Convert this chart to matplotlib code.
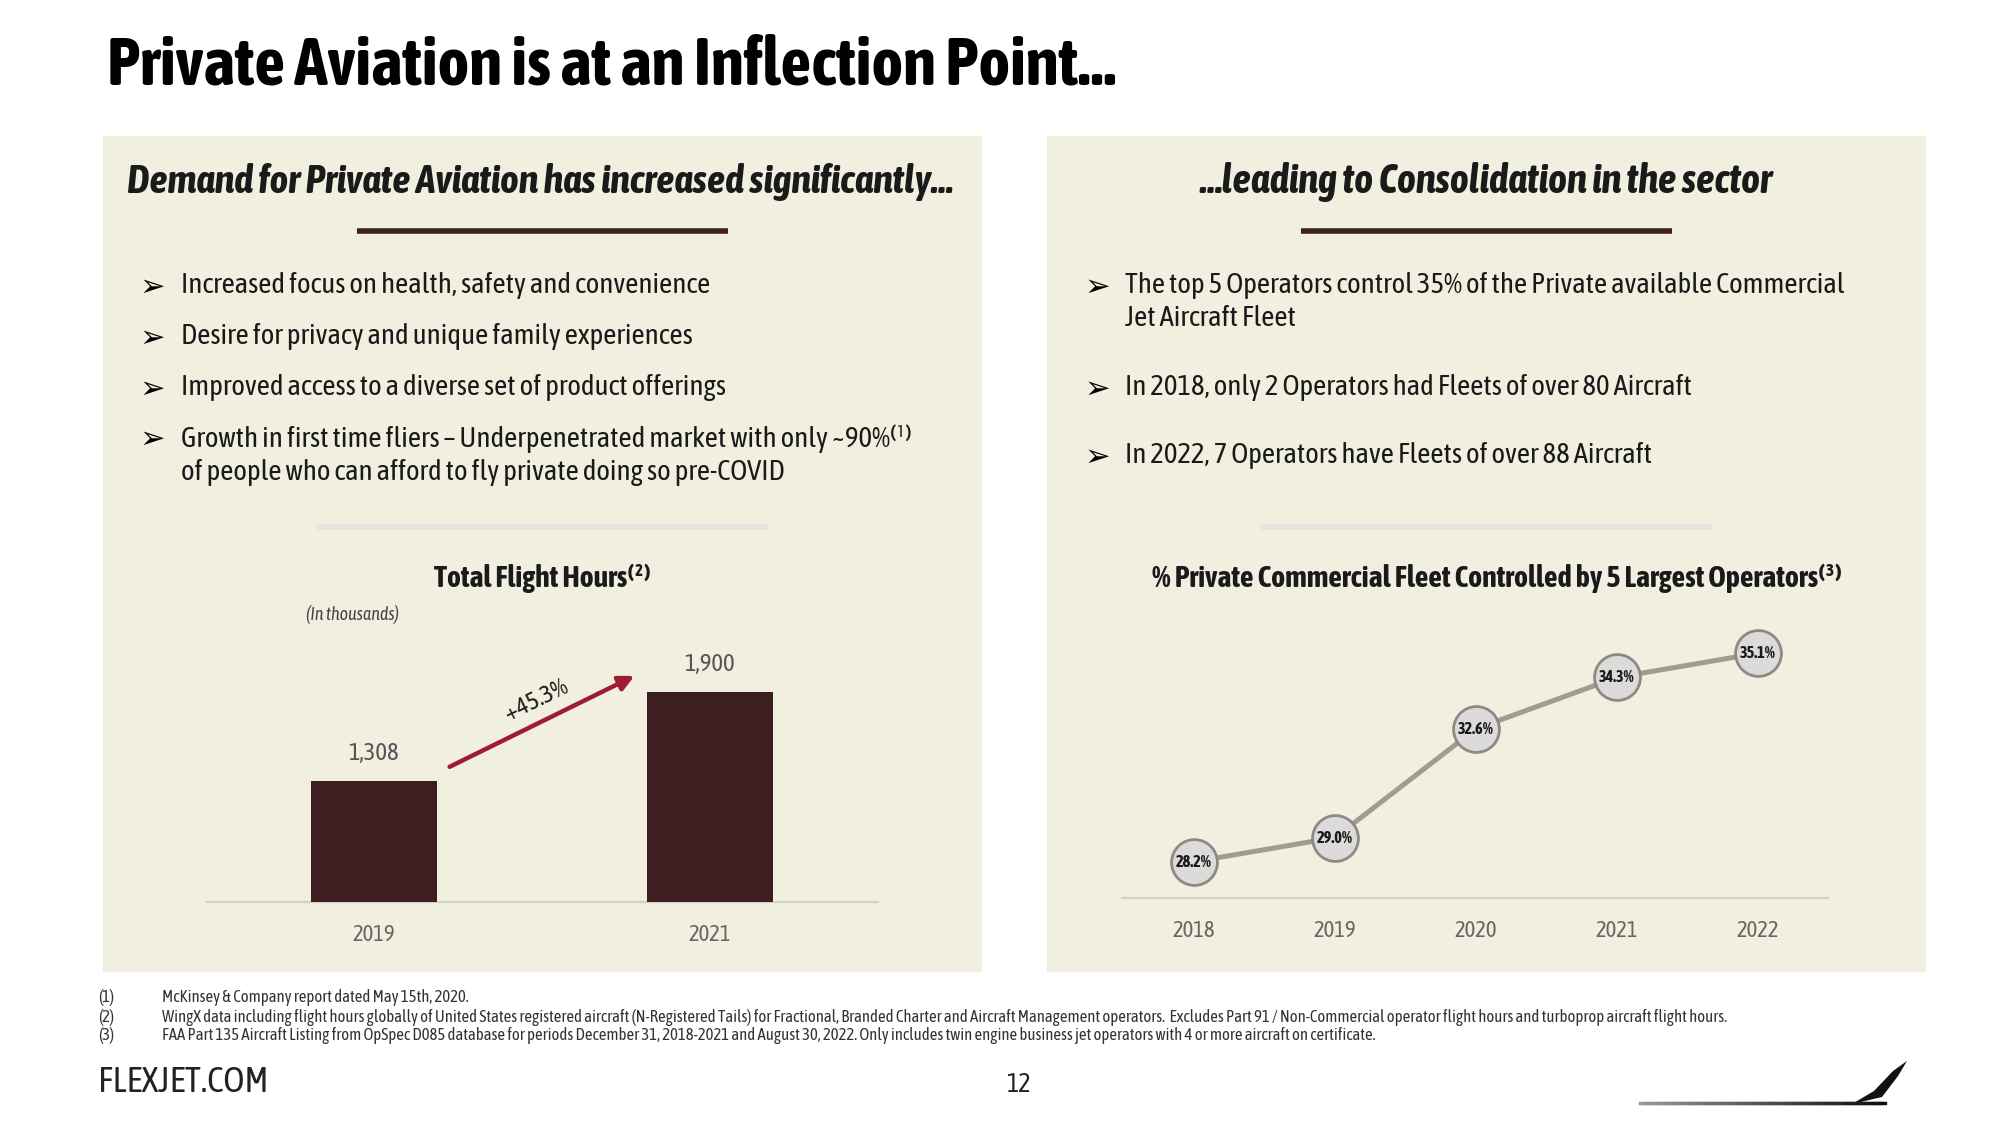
import matplotlib
matplotlib.use("Agg")
import matplotlib.pyplot as plt
import matplotlib.patches as mpatches
from matplotlib import font_manager
from matplotlib.collections import LineCollection
from collections import defaultdict
import numpy as np

# ── Colours ────────────────────────────────────────────────────────────────
PANEL = "#F1EFDF"
BROWN = "#3E1F21"
ARROW_RED = "#9E1B32"
LINE_GREY = "#A39A92"
DOT_FACE = "#DCDBD9"
DOT_EDGE = "#8E8984"
BASE = "#D3D0C6"
FAINT = "#E6E4DE"
TEXT = "#1A1A1A"
MUTED = "#666666"

# prefer a narrow face with a bold cut, the slide uses a condensed font
_variants = defaultdict(set)
for f in font_manager.fontManager.ttflist:
    if "Narrow" in f.name or "Condensed" in f.name:
        w = f.weight if isinstance(f.weight, int) else font_manager.weight_dict.get(f.weight, 400)
        _variants[f.name].add((w >= 600, f.style))
_ranked = sorted(_variants, key=lambda n: (any(b for b, _ in _variants[n]), len(_variants[n])),
                 reverse=True)
FONT = _ranked[:1] + ["Roboto", "DejaVu Sans"]
plt.rcParams["font.family"] = FONT

# ── Data ───────────────────────────────────────────────────────────────────
hours_years = ["2019", "2021"]
hours_values = [1308, 1900]

fleet_years = ["2018", "2019", "2020", "2021", "2022"]
fleet_share = [28.2, 29.0, 32.6, 34.3, 35.1]

left_bullets = [
    "Increased focus on health, safety and convenience",
    "Desire for privacy and unique family experiences",
    "Improved access to a diverse set of product offerings",
    "Growth in first time fliers \u2013 Underpenetrated market with only ~90%\u207d\u00b9\u207e\nof people who can afford to fly private doing so pre-COVID",
]
right_bullets = [
    "The top 5 Operators control 35% of the Private available Commercial\nJet Aircraft Fleet",
    "In 2018, only 2 Operators had Fleets of over 80 Aircraft",
    "In 2022, 7 Operators have Fleets of over 88 Aircraft",
]
footnotes = [
    "McKinsey & Company report dated May 15th, 2020.",
    "WingX data including flight hours globally of United States registered aircraft (N-Registered Tails) for Fractional, Branded Charter and Aircraft Management operators.  Excludes Part 91 / Non-Commercial operator flight hours and turboprop aircraft flight hours.",
    "FAA Part 135 Aircraft Listing from OpSpec D085 database for periods December 31, 2018-2021 and August 30, 2022. Only includes twin engine business jet operators with 4 or more aircraft on certificate.",
]

W, H = 2000, 1125
fig = plt.figure(figsize=(W / 100, H / 100), dpi=100, facecolor="white")
renderer = fig.canvas.get_renderer()

# page-level canvas in pixel units (y downwards)
ax0 = fig.add_axes([0, 0, 1, 1], zorder=0)
ax0.set_xlim(0, W)
ax0.set_ylim(H, 0)
ax0.axis("off")


def px_axes(x0, y0, x1, y1):
    a = fig.add_axes([x0 / W, 1 - y1 / H, (x1 - x0) / W, (y1 - y0) / H], zorder=2)
    a.set_facecolor("none")
    return a


def fit(t, target_w):
    # scale a text so its width matches the reference width (pixels)
    for _ in range(3):
        cur = t.get_window_extent(renderer).width
        t.set_fontsize(t.get_fontsize() * target_w / cur)
    return t


def size_for(s, target_w, **kw):
    probe = ax0.text(0, 0, s, fontsize=12, **kw)
    fit(probe, target_w)
    size = probe.get_fontsize()
    probe.remove()
    return size


# title
fit(ax0.text(107, 66, "Private Aviation is at an Inflection Point\u2026", fontsize=38,
             fontweight="bold", color="black", va="center", ha="left"), 1007)

# panels
for px in (103, 1047):
    ax0.add_patch(mpatches.Rectangle((px, 136), 879, 836, facecolor=PANEL, edgecolor="none"))

fit(ax0.text(540, 182, "Demand for Private Aviation has increased significantly\u2026", fontsize=22,
             fontweight="bold", style="italic", ha="center", va="center", color=TEXT), 828)
fit(ax0.text(1486, 182, "\u2026leading to Consolidation in the sector", fontsize=22,
             fontweight="bold", style="italic", ha="center", va="center", color=TEXT), 574)
ax0.plot([357, 728], [231, 231], color=BROWN, lw=4, solid_capstyle="butt")
ax0.plot([1301, 1672], [231, 231], color=BROWN, lw=4, solid_capstyle="butt")

# bullets
bullet_size = size_for(left_bullets[0], 529)
for y, txt in zip([287, 338, 389, 439], left_bullets):
    ax0.text(152, y, "\u27a2", fontsize=22, ha="center", va="center", color="black",
             family=["DejaVu Sans"])
    ax0.text(181, y - 15, txt, fontsize=bullet_size, ha="left", va="top", color=TEXT,
             linespacing=1.3)
for y, txt in zip([287, 389, 457], right_bullets):
    ax0.text(1097, y, "\u27a2", fontsize=22, ha="center", va="center", color="black",
             family=["DejaVu Sans"])
    ax0.text(1125, y - 15, txt, fontsize=bullet_size, ha="left", va="top", color=TEXT,
             linespacing=1.3)

# faint separators
ax0.plot([316, 768], [527, 527], color=FAINT, lw=4, solid_capstyle="butt")
ax0.plot([1260, 1712], [527, 527], color=FAINT, lw=4, solid_capstyle="butt")

# chart titles
fit(ax0.text(542, 578, "Total Flight Hours\u207d\u00b2\u207e", fontsize=18, fontweight="bold",
             ha="center", va="center", color=TEXT), 216)
fit(ax0.text(1497, 578, "% Private Commercial Fleet Controlled by 5 Largest Operators\u207d\u00b3\u207e",
             fontsize=18, fontweight="bold", ha="center", va="center", color=TEXT), 690)
fit(ax0.text(306, 614, "(In thousands)", fontsize=12, style="italic", ha="left", va="center",
             color="#444444"), 93)

value_size = size_for("1,308", 51)
year_size = size_for("2019", 43)
dot_size = size_for("28.2%", 36)

# ── Left chart: bars ───────────────────────────────────────────────────────
axL = px_axes(207, 640, 878, 902)
xL = np.arange(len(hours_values))
axL.bar(xL, hours_values, width=0.375, color=BROWN, zorder=3)
axL.set_xlim(-0.497, 1.5)
axL.set_ylim(500, 2250)
for x, v in zip(xL, hours_values):
    axL.annotate(f"{v:,}", (x, v), xytext=(0, 20), textcoords="offset points",
                 ha="center", va="center", fontsize=value_size, color="#555555")
growth = (hours_values[1] / hours_values[0] - 1) * 100
a_start = (0.225, hours_values[0] + 95)
a_end = (0.775, hours_values[1] + 110)
axL.annotate("", xy=a_end, xytext=a_start,
             arrowprops=dict(arrowstyle="-|>,head_length=0.9,head_width=0.45",
                             color=ARROW_RED, lw=3.2, shrinkA=0, shrinkB=0))
axL.annotate(f"+{growth:.1f}%", ((a_start[0] + a_end[0]) / 2, (a_start[1] + a_end[1]) / 2),
             xytext=(-4, 15), textcoords="offset points", rotation=26, fontsize=value_size,
             ha="center", va="center", color=TEXT)

# ── Right chart: line ──────────────────────────────────────────────────────
axR = px_axes(1122, 626, 1828, 898)
xR = np.arange(len(fleet_share))
axR.plot(xR, fleet_share, color=LINE_GREY, lw=3.6, zorder=3, marker="o", markersize=33,
         markerfacecolor=DOT_FACE, markeredgecolor=DOT_EDGE, markeredgewidth=2)
for x, v in zip(xR, fleet_share):
    axR.text(x, v, f"{v:.1f}%", fontsize=dot_size, ha="center", va="center", color=TEXT,
             fontweight="bold", zorder=4)
axR.set_xlim(-0.511, 4.496)
axR.set_ylim(27, 36)

for a, labels, xs in ((axL, hours_years, xL), (axR, fleet_years, xR)):
    a.set_xticks(xs)
    a.set_xticklabels(labels, fontsize=year_size, color=MUTED)
    a.tick_params(axis="x", length=0, pad=16)
    a.set_yticks([])
    a.spines[["top", "right", "left"]].set_visible(False)
    a.spines["bottom"].set_color(BASE)
    a.spines["bottom"].set_linewidth(1.6)

# ── Footnotes & footer ─────────────────────────────────────────────────────
fn_size = size_for(footnotes[1], 1554)
for i, (y, txt) in enumerate(zip([997, 1017, 1036], footnotes)):
    ax0.text(98, y, f"({i + 1})", fontsize=fn_size, ha="left", va="center", color="#333333")
    ax0.text(162, y, txt, fontsize=fn_size, ha="left", va="center", color="#333333")

fit(ax0.text(98, 1082, "FLEXJET.COM", fontsize=21, ha="left", va="center", color="#222222"), 170)
ax0.text(1018, 1085, "12", fontsize=year_size * 1.15, ha="center", va="center", color="#222222")

# logo swoosh
xs = np.linspace(1640, 1885, 80)
segs = [[(xs[i], 1102.5), (xs[i + 1], 1102.5)] for i in range(len(xs) - 1)]
shades = [(s, s, s) for s in np.linspace(0.6, 0.05, len(segs))]
ax0.add_collection(LineCollection(segs, colors=shades, linewidths=2.4, capstyle="projecting"))
ax0.add_patch(mpatches.Polygon([(1852, 1104), (1882, 1097), (1898, 1076), (1907, 1061),
                                (1893, 1071), (1874, 1091)], closed=True,
                               facecolor="#111111", edgecolor="none"))

fig.savefig("out.png", dpi=100, facecolor="white")
